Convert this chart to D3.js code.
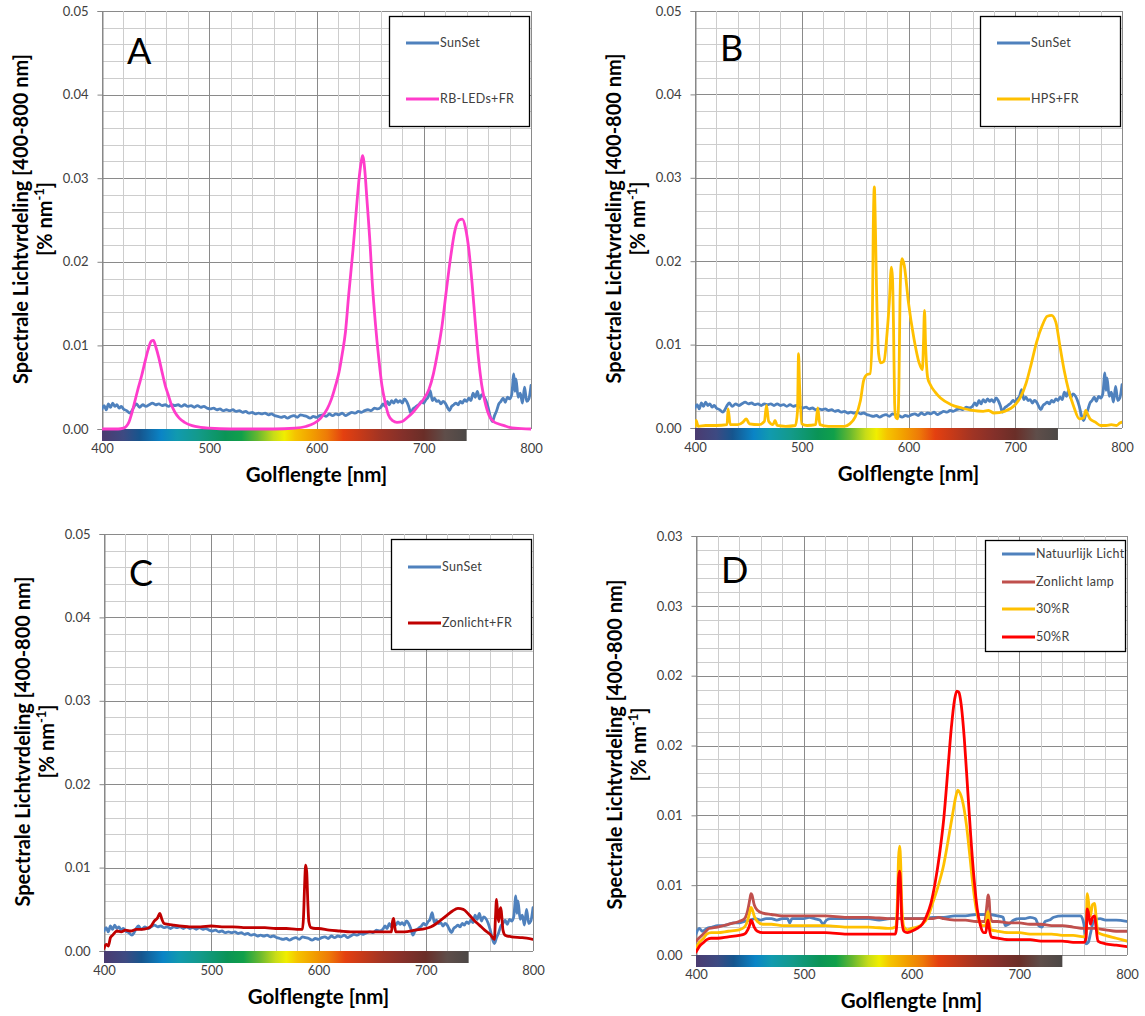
<!DOCTYPE html>
<html><head><meta charset="utf-8">
<script src="https://cdn.jsdelivr.net/npm/d3@7"></script>
<style>
body{margin:0;background:#fff}
svg{display:block}
text{font-family:Lato,"Open Sans",sans-serif}
</style>
</head><body>
<svg id="c" width="1145" height="1016"></svg>
<script>
// ---------------- data ----------------
const xTicks = [400, 500, 600, 700, 800];
const xTickLabels = ["400", "500", "600", "700", "800"];
const yTicksABC = [0, 0.01, 0.02, 0.03, 0.04, 0.05];
const yLabelsABC = ["0.00", "0.01", "0.02", "0.03", "0.04", "0.05"];
const yTicksD = [0, 0.005, 0.01, 0.015, 0.02, 0.025, 0.03];
const yLabelsD = ["0.00", "0.01", "0.01", "0.02", "0.02", "0.03", "0.03"];

const sunSet = [[400,.0024],[402,.0028],[404,.0023],[406,.0030],[408,.0026],[410,.0031],[412,.0027],[414,.0029],[416,.0025],[418,.0027],[420,.0024],[423,.0022],[426,.0019],[428,.0022],[430,.0027],[432,.0030],[435,.0026],[438,.0029],[441,.0027],[444,.0029],[447,.0031],[450,.0029],[453,.0030],[456,.0028],[459,.0029],[462,.0027],[465,.0029],[468,.0028],[471,.0029],[474,.0027],[477,.0029],[480,.0027],[483,.0028],[486,.0026],[489,.0028],[492,.0026],[495,.0027],[498,.0025],[501,.0024],[504,.0025],[507,.0023],[510,.0024],[513,.0022],[516,.0023],[519,.0022],[522,.0023],[525,.0021],[528,.0022],[531,.0020],[534,.0021],[537,.0019],[540,.0020],[543,.0018],[546,.0019],[549,.0018],[552,.0019],[555,.0017],[558,.0018],[561,.0016],[564,.0015],[567,.0014],[570,.0015],[573,.0013],[576,.0015],[579,.0016],[582,.0014],[585,.0017],[588,.0016],[591,.0015],[594,.0013],[597,.0015],[600,.0014],[603,.0016],[606,.0017],[609,.0015],[612,.0018],[615,.0016],[618,.0018],[621,.0017],[624,.0019],[627,.0016],[630,.0018],[633,.0020],[636,.0019],[639,.0021],[642,.0020],[645,.0022],[648,.0023],[651,.0022],[654,.0025],[657,.0024],[660,.0026],[662,.0030],[664,.0027],[666,.0033],[668,.0029],[670,.0034],[672,.0031],[674,.0035],[676,.0032],[678,.0034],[680,.0031],[682,.0036],[684,.0033],[686,.0027],[688,.0019],[690,.0024],[692,.0026],[694,.0028],[696,.0030],[698,.0033],[700,.0031],[702,.0035],[704,.0038],[706,.0046],[708,.0034],[710,.0037],[712,.0033],[714,.0034],[716,.0030],[718,.0033],[720,.0031],[722,.0026],[724,.0022],[726,.0027],[728,.0029],[730,.0031],[732,.0029],[734,.0033],[736,.0031],[738,.0035],[740,.0033],[742,.0037],[744,.0034],[746,.0043],[748,.0038],[750,.0045],[752,.0036],[754,.0041],[756,.0039],[758,.0034],[760,.0026],[762,.0015],[764,.0009],[766,.0016],[768,.0022],[770,.0030],[772,.0033],[774,.0037],[776,.0032],[778,.0038],[780,.0036],[782,.0041],[784,.0066],[785,.0045],[786,.0060],[788,.0038],[790,.0043],[792,.0031],[794,.0050],[796,.0033],[798,.0036],[800,.0052]];

const rbLeds = [[400,0],[415,0],[420,.0001],[425,.0008],[428,.0020],[431,.0035],[434,.0050],[437,.0064],[440,.0080],[443,.0095],[446,.0105],[448,.0106],[450,.0099],[453,.0085],[456,.0068],[459,.0052],[462,.0040],[465,.0028],[468,.0020],[472,.0013],[477,.0008],[484,.0004],[492,.0002],[500,.0001],[520,0],[560,0],[580,.0001],[590,.0003],[598,.0007],[604,.0013],[610,.0024],[614,.0036],[618,.0053],[621,.0068],[624,.0090],[627,.0116],[630,.0160],[634,.0214],[637,.0260],[640,.0303],[642,.0322],[643,.0327],[645,.0310],[647,.0275],[650,.0220],[652,.0175],[655,.0125],[658,.0085],[661,.0052],[664,.0032],[667,.0017],[671,.0010],[675,.0008],[680,.0009],[685,.0014],[690,.0020],[695,.0028],[700,.0036],[705,.0048],[709,.0066],[713,.0092],[717,.0123],[721,.0165],[725,.0205],[729,.0237],[733,.0250],[736,.0251],[739,.0240],[742,.0215],[745,.0175],[748,.0128],[751,.0085],[754,.0053],[757,.0033],[761,.0016],[765,.0009],[770,.0006],[775,.0004],[780,.0002],[785,.0001],[800,0]];

const hpsFr = [[400,.0002],[401,.0009],[403,.0002],[410,.0003],[420,.0003],[430,.0004],[431,.0023],[433,.0004],[440,.0004],[445,.0007],[448,.0011],[451,.0005],[460,.0004],[465,.0008],[467,.0027],[469,.0008],[473,.0004],[475,.0009],[477,.0003],[485,.0002],[494,.0003],[496,.0020],[497,.0089],[498,.0050],[500,.0005],[505,.0003],[513,.0004],[515,.0024],[517,.0004],[525,.0002],[540,.0002],[545,.0005],[550,.0013],[555,.0033],[558,.0057],[561,.0064],[564,.0065],[566,.0113],[567,.0240],[568,.0289],[569,.0240],[570,.0170],[572,.0089],[574,.0078],[577,.0080],[580,.0115],[582,.0150],[584,.0193],[585,.0180],[586,.0120],[587,.0030],[588,.0013],[590,.0011],[591,.0050],[592,.0150],[593,.0195],[594,.0203],[596,.0195],[600,.0150],[605,.0108],[610,.0078],[613,.0070],[614,.0100],[615,.0141],[616,.0100],[618,.0060],[620,.0053],[625,.0043],[630,.0036],[640,.0028],[650,.0024],[660,.0021],[670,.0020],[675,.0021],[680,.0018],[690,.0020],[700,.0028],[705,.0037],[710,.0053],[715,.0077],[720,.0103],[725,.0122],[730,.0134],[734,.0135],[738,.0127],[742,.0097],[746,.0068],[750,.0045],[755,.0025],[760,.0011],[764,.0012],[766,.0021],[768,.0016],[770,.0011],[775,.0007],[780,.0003],[785,.0003],[790,.0004],[795,.0003],[798,.0006],[800,.0007]];

const zonlichtFr = [[400,.0003],[402,.0008],[404,.0006],[406,.0016],[408,.0019],[410,.0022],[412,.0024],[416,.0023],[420,.0025],[425,.0024],[430,.0026],[435,.0026],[440,.0027],[444,.0030],[447,.0036],[450,.0040],[452,.0045],[454,.0038],[456,.0033],[460,.0032],[465,.0031],[470,.0030],[480,.0029],[490,.0029],[500,.0030],[510,.0029],[520,.0029],[530,.0028],[540,.0028],[550,.0028],[560,.0027],[570,.0027],[580,.0026],[585,.0026],[586,.0040],[587,.0077],[588,.0103],[589,.0095],[590,.0060],[591,.0035],[593,.0028],[597,.0027],[600,.0027],[610,.0025],[620,.0024],[630,.0023],[640,.0023],[650,.0023],[660,.0023],[668,.0023],[669,.0035],[670,.0039],[671,.0030],[672,.0023],[680,.0023],[690,.0025],[700,.0027],[705,.0029],[710,.0033],[715,.0038],[720,.0043],[725,.0048],[730,.0051],[735,.0050],[740,.0044],[745,.0037],[750,.0031],[755,.0025],[760,.0020],[764,.0014],[765,.0040],[766,.0062],[767,.0045],[768,.0035],[769,.0048],[770,.0052],[771,.0040],[772,.0025],[774,.0019],[780,.0017],[790,.0016],[800,.0014]];

const natuurlijkLicht = [[400,.0015],[403,.0019],[406,.0017],[410,.0019],[415,.0020],[420,.0021],[425,.0021],[430,.0022],[435,.0023],[440,.0023],[445,.0024],[450,.0025],[455,.0026],[460,.0025],[465,.0026],[470,.0026],[475,.0025],[480,.0026],[485,.0026],[487,.0023],[489,.0026],[495,.0026],[500,.0026],[505,.0027],[510,.0026],[515,.0025],[518,.0022],[521,.0025],[525,.0026],[530,.0026],[540,.0026],[550,.0026],[560,.0026],[570,.0025],[580,.0026],[590,.0026],[600,.0026],[610,.0026],[620,.0027],[630,.0027],[640,.0028],[650,.0028],[660,.0029],[670,.0029],[680,.0028],[685,.0027],[687,.0021],[690,.0022],[695,.0025],[700,.0026],[705,.0026],[710,.0027],[715,.0026],[718,.0021],[721,.0020],[724,.0024],[728,.0025],[732,.0027],[740,.0028],[750,.0028],[757,.0028],[760,.0022],[762,.0008],[764,.0009],[766,.0015],[768,.0022],[770,.0025],[775,.0026],[780,.0025],[790,.0025],[800,.0024]];

const zonlichtLamp = [[400,.0010],[404,.0013],[408,.0016],[412,.0019],[420,.0020],[430,.0022],[440,.0024],[445,.0026],[448,.0032],[450,.0040],[451,.0044],[452,.0043],[454,.0036],[457,.0032],[462,.0030],[470,.0029],[480,.0028],[490,.0028],[500,.0028],[520,.0028],[540,.0027],[560,.0027],[580,.0026],[600,.0026],[620,.0026],[625,.0027],[630,.0026],[640,.0025],[650,.0025],[660,.0024],[668,.0024],[670,.0036],[671,.0043],[672,.0040],[673,.0028],[675,.0024],[680,.0024],[690,.0023],[700,.0023],[710,.0022],[720,.0022],[730,.0021],[740,.0021],[750,.0020],[760,.0019],[770,.0019],[780,.0018],[790,.0017],[800,.0017]];

const r30 = [[400,.0005],[403,.0009],[407,.0012],[410,.0015],[414,.0016],[420,.0016],[430,.0017],[440,.0018],[445,.0020],[448,.0025],[450,.0031],[451,.0034],[452,.0033],[454,.0028],[457,.0024],[462,.0022],[470,.0022],[480,.0021],[500,.0021],[520,.0021],[540,.0020],[560,.0020],[580,.0019],[585,.0020],[587,.0040],[588,.0070],[589,.0078],[590,.0065],[591,.0035],[593,.0020],[596,.0018],[600,.0019],[605,.0020],[610,.0022],[615,.0027],[620,.0038],[625,.0050],[630,.0065],[634,.0082],[638,.0100],[641,.0113],[643,.0118],[645,.0116],[648,.0108],[651,.0093],[654,.0072],[657,.0050],[660,.0033],[663,.0024],[666,.0021],[669,.0021],[670,.0028],[671,.0031],[672,.0025],[674,.0018],[680,.0017],[690,.0016],[700,.0016],[710,.0015],[720,.0015],[730,.0015],[740,.0014],[750,.0014],[760,.0013],[762,.0015],[763,.0044],[764,.0040],[766,.0028],[768,.0036],[770,.0037],[771,.0030],[773,.0016],[780,.0014],[790,.0012],[800,.0010]];

const r50 = [[400,.0002],[403,.0006],[407,.0009],[410,.0011],[414,.0012],[420,.0012],[430,.0013],[440,.0014],[445,.0015],[448,.0018],[450,.0022],[451,.0025],[452,.0024],[454,.0020],[457,.0017],[462,.0016],[470,.0016],[480,.0016],[500,.0016],[520,.0016],[540,.0015],[560,.0015],[580,.0015],[585,.0015],[587,.0030],[588,.0055],[589,.0060],[590,.0048],[591,.0025],[593,.0017],[596,.0016],[600,.0017],[605,.0019],[610,.0022],[614,.0028],[618,.0037],[622,.0052],[626,.0072],[630,.0098],[634,.0135],[637,.0163],[640,.0183],[642,.0189],[644,.0188],[646,.0180],[649,.0155],[652,.0120],[655,.0085],[658,.0055],[661,.0033],[664,.0021],[667,.0016],[669,.0016],[670,.0022],[671,.0025],[672,.0020],[674,.0013],[680,.0012],[690,.0011],[700,.0011],[710,.0011],[720,.0010],[730,.0010],[740,.0010],[750,.0009],[760,.0009],[762,.0012],[763,.0033],[764,.0031],[766,.0022],[768,.0027],[770,.0028],[771,.0022],[773,.0010],[780,.0008],[790,.0007],[800,.0006]];

const spectrumStops = [[400,"#4b3b70"],[420,"#3d4a82"],[435,"#16558e"],[455,"#0a84c6"],[470,"#119aaf"],[490,"#139a8a"],[515,"#0a9456"],[530,"#10a04a"],[545,"#66b830"],[560,"#c8dc18"],[570,"#f0ee00"],[580,"#f5c400"],[595,"#f2a000"],[610,"#ee7a08"],[625,"#e44010"],[640,"#c83a18"],[660,"#a03424"],[680,"#84302a"],[700,"#6a2e28"],[720,"#5f4e4a"],[740,"#4c4846"]];
const spectrumEnd = 740;

// ---------------- layout ----------------
const panels = [
  {letter:"A", left:102, right:531, top:11, bottom:429, ymax:0.05, yt:yTicksABC, yl:yLabelsABC, minorY:0.002, letterDy:53,
   series:[{name:"SunSet", data:sunSet, color:"#4F81BD"},{name:"RB-LEDs+FR", data:rbLeds, color:"#FF3CCB"}], legendRows:[43,99], legendTop:16, legendH:110},
  {letter:"B", left:695, right:1122, top:11, bottom:428, ymax:0.05, yt:yTicksABC, yl:yLabelsABC, minorY:0.002, letterDy:50,
   series:[{name:"SunSet", data:sunSet, color:"#4F81BD"},{name:"HPS+FR", data:hpsFr, color:"#FFC000"}], legendRows:[43,99], legendTop:16, legendH:110},
  {letter:"C", left:104, right:533, top:534, bottom:951, ymax:0.05, yt:yTicksABC, yl:yLabelsABC, minorY:0.002, letterDy:52,
   series:[{name:"SunSet", data:sunSet, color:"#4F81BD"},{name:"Zonlicht+FR", data:zonlichtFr, color:"#C00000"}], legendRows:[567,623], legendTop:539, legendH:110},
  {letter:"D", left:696, right:1127, top:536, bottom:955, ymax:0.03, yt:yTicksD, yl:yLabelsD, minorY:0.001, letterDy:47,
   series:[{name:"Natuurlijk Licht", data:natuurlijkLicht, color:"#4F81BD"},{name:"Zonlicht lamp", data:zonlichtLamp, color:"#C0504D"},{name:"30%R", data:r30, color:"#FFC000"},{name:"50%R", data:r50, color:"#FF0000"}], legendRows:[554,582,609,637], legendTop:540, legendH:111}
];

const svg = d3.select("#c");
const defs = svg.append("defs");
const grad = defs.append("linearGradient").attr("id","spec").attr("x1","0%").attr("x2","100%").attr("y1","0%").attr("y2","0%");
spectrumStops.forEach(([wl,c]) => grad.append("stop").attr("offset", ((wl-400)/(spectrumEnd-400)*100)+"%").attr("stop-color", c));

panels.forEach((p, i) => {
  const x = d3.scaleLinear().domain([400,800]).range([p.left,p.right]);
  const y = d3.scaleLinear().domain([0,p.ymax]).range([p.bottom,p.top]);
  const g = svg.append("g");

  // grid
  const vMinor = d3.range(400, 801, 20);
  const hMinor = d3.range(0, Math.round(p.ymax/p.minorY)+1).map(k => k*p.minorY);
  const majorStep = p.yt[1];
  g.append("g").selectAll("line").data(hMinor).join("line")
    .attr("x1", p.left).attr("x2", p.right)
    .attr("y1", d => Math.round(y(d))+0.5).attr("y2", d => Math.round(y(d))+0.5)
    .attr("stroke", d => (Math.abs(d/majorStep - Math.round(d/majorStep)) < 1e-6) ? "#8a8a8a" : "#cdcdcd")
    .attr("stroke-width", 1);
  g.append("g").selectAll("line").data(vMinor).join("line")
    .attr("y1", p.top).attr("y2", p.bottom)
    .attr("x1", d => Math.round(x(d))+0.5).attr("x2", d => Math.round(x(d))+0.5)
    .attr("stroke", d => (d % 100 === 0) ? "#8a8a8a" : "#cdcdcd")
    .attr("stroke-width", 1);

  // y axis
  const ya = d3.axisLeft(y).tickValues(p.yt).tickFormat((d,k) => p.yl[k]).tickSize(5).tickPadding(9);
  const yg = g.append("g").attr("transform", `translate(${p.left+0.5},0)`).call(ya);
  yg.select(".domain").attr("stroke", "#868686");
  yg.selectAll(".tick line").attr("stroke", "#868686");
  yg.selectAll("text").attr("font-size", 13).attr("fill", "#404040").attr("font-family", "Lato, sans-serif");

  // colour bar
  g.append("rect").attr("x", x(400)).attr("y", p.bottom).attr("width", x(spectrumEnd)-x(400)).attr("height", 12)
    .attr("fill", "url(#spec)");

  // x axis labels
  const xa = d3.axisBottom(x).tickValues(xTicks).tickFormat((d,k) => xTickLabels[k]).tickSize(0);
  const xg = g.append("g").attr("transform", `translate(0,${p.bottom})`).call(xa);
  xg.select(".domain").remove();
  xg.selectAll("text").attr("y", 24).attr("dy", null).attr("font-size", 13).attr("fill", "#404040").attr("font-family", "Lato, sans-serif");

  // clip + lines
  const cid = "clip"+i;
  defs.append("clipPath").attr("id", cid).append("rect")
    .attr("x", p.left).attr("y", p.top-2).attr("width", p.right-p.left).attr("height", p.bottom-p.top+4);
  const line = d3.line().x(d => x(d[0])).y(d => y(d[1])).curve(d3.curveMonotoneX);
  const lg = g.append("g").attr("clip-path", `url(#${cid})`);
  p.series.forEach(s => {
    lg.append("path").datum(s.data).attr("d", line).attr("fill", "none")
      .attr("stroke", s.color).attr("stroke-width", 2.8).attr("stroke-linejoin", "round").attr("stroke-linecap","round");
  });

  // legend
  const lx = p.right - 142;
  const leg = g.append("g");
  leg.append("rect").attr("x", lx+0.5).attr("y", p.legendTop+0.5).attr("width", 140).attr("height", p.legendH)
    .attr("fill", "#fff").attr("stroke", "#000").attr("stroke-width", 1.3);
  p.series.forEach((s, k) => {
    const ry = p.legendRows[k];
    leg.append("line").attr("x1", lx+17).attr("x2", lx+50).attr("y1", ry).attr("y2", ry)
      .attr("stroke", s.color).attr("stroke-width", 3);
    leg.append("text").attr("x", lx+51).attr("y", ry).attr("dy", "0.35em")
      .attr("font-size", 12.5).attr("letter-spacing", 0.3).attr("fill", "#404040").text(s.name);
  });

  // panel letter
  g.append("text").attr("x", p.left+25).attr("y", p.top + p.letterDy)
    .attr("font-family", "'Liberation Sans', Arial, sans-serif").attr("font-size", 36).attr("fill", "#000").text(p.letter);

  // axis titles
  g.append("text").attr("x", (p.left+p.right)/2).attr("y", p.bottom+53).attr("text-anchor", "middle")
    .attr("font-weight", "bold").attr("font-size", 20.5).attr("fill", "#000").text("Golflengte [nm]");
  const cy = (p.top+p.bottom)/2 - 1;
  g.append("text").attr("transform", `translate(${p.left-74},${cy}) rotate(-90)`).attr("text-anchor", "middle")
    .attr("font-weight", "bold").attr("font-size", 20).attr("fill", "#000").text("Spectrale Lichtvrdeling [400-800 nm]");
  const yt2 = g.append("text").attr("transform", `translate(${p.left-50},${cy}) rotate(-90)`).attr("text-anchor", "middle")
    .attr("font-weight", "bold").attr("font-size", 20).attr("fill", "#000");
  yt2.append("tspan").text("[% nm");
  yt2.append("tspan").attr("font-size", 13).attr("dy", "-8").text("-1");
  yt2.append("tspan").attr("dy", "8").text("]");
});
</script>
</body></html>
